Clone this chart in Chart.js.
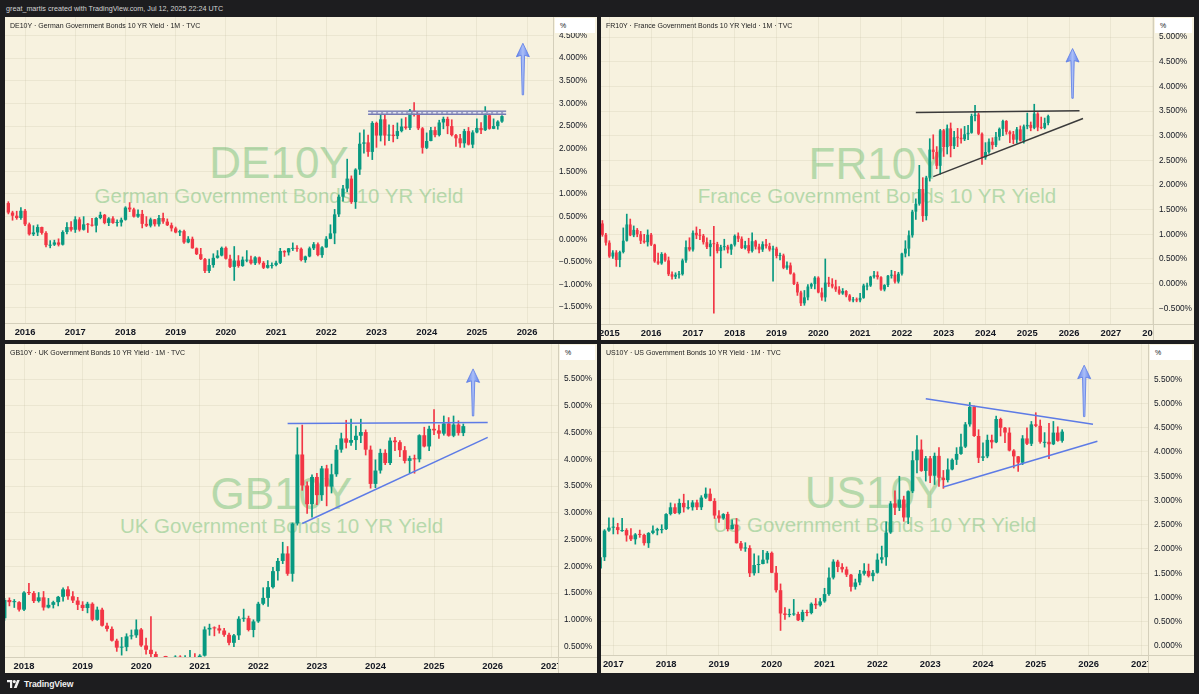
<!DOCTYPE html>
<html lang="en">
<head>
<meta charset="utf-8">
<title>10Y Government Bond Yields - 1M</title>
<script src="https://cdn.jsdelivr.net/npm/chart.js@4.4.1/dist/chart.umd.min.js"></script>
<style>
  html, body { margin: 0; padding: 0; }
  body {
    width: 1199px; height: 694px; position: relative; overflow: hidden;
    background: #1d1d1f; font-family: "Liberation Sans", Arial, sans-serif;
  }
  .topline { position: absolute; left: 6px; top: 4px; font-size: 7.2px; color: #d4d4d4; white-space: nowrap; }
  .panel { position: absolute; background: #f7f2df; overflow: hidden; }
  .panel canvas { position: relative; z-index: 1; }
  .wm { position: absolute; left: 0; text-align: center; color: #b6d9ab; white-space: nowrap; z-index: 0; }
  .wm.big { font-size: 44px; line-height: 44px; }
  .wm.sub { font-size: 20.5px; line-height: 20.5px; }
  .title { position: absolute; left: 5px; top: 5px; font-size: 7px; color: #222; white-space: nowrap; z-index: 2; }
  .unit {
    position: absolute; top: 1px; height: 15px; background: #fff; z-index: 2;
    font-size: 7px; line-height: 15px; color: #131722; padding-left: 5px; box-sizing: border-box;
  }
  .corner {
    position: absolute; z-index: 2; background: #f7f2df; box-sizing: border-box;
    border-left: 1px solid #d4cfbb; border-top: 1px solid #d4cfbb;
  }
  .footer { position: absolute; left: 7px; top: 679px; height: 10px; display: flex; align-items: center; gap: 4px; }
  .footer span { color: #f0f0f0; font-size: 8.6px; font-weight: bold; letter-spacing: -0.1px; }
</style>
</head>
<body>

<div class="topline">great_martis created with TradingView.com, Jul 12, 2025 22:24 UTC</div>

<div class="panel" id="p-de" style="left:5px;top:17px;width:592px;height:323px">
  <div class="wm big">DE10Y</div>
  <div class="wm sub">German Government Bonds 10 YR Yield</div>
  <canvas id="c-de"></canvas>
  <div class="title">DE10Y · German Government Bonds 10 YR Yield · 1M · TVC</div>
  <div class="unit">%</div>
  <div class="corner"></div>
</div>

<div class="panel" id="p-fr" style="left:601px;top:17px;width:593px;height:323px">
  <div class="wm big">FR10Y</div>
  <div class="wm sub">France Government Bonds 10 YR Yield</div>
  <canvas id="c-fr"></canvas>
  <div class="title">FR10Y · France Government Bonds 10 YR Yield · 1M · TVC</div>
  <div class="unit">%</div>
  <div class="corner"></div>
</div>

<div class="panel" id="p-gb" style="left:5px;top:344px;width:592px;height:329px">
  <div class="wm big">GB10Y</div>
  <div class="wm sub">UK Government Bonds 10 YR Yield</div>
  <canvas id="c-gb"></canvas>
  <div class="title">GB10Y · UK Government Bonds 10 YR Yield · 1M · TVC</div>
  <div class="unit">%</div>
  <div class="corner"></div>
</div>

<div class="panel" id="p-us" style="left:601px;top:344px;width:593px;height:329px">
  <div class="wm big">US10Y</div>
  <div class="wm sub">US Government Bonds 10 YR Yield</div>
  <canvas id="c-us"></canvas>
  <div class="title">US10Y · US Government Bonds 10 YR Yield · 1M · TVC</div>
  <div class="unit">%</div>
  <div class="corner"></div>
</div>

<div class="footer">
  <svg width="13" height="8" viewBox="0 0 13 8"><path d="M0 0H5.2V8H3V2.2H0Z" fill="#f0f0f0"/><circle cx="7.3" cy="1.6" r="1.6" fill="#f0f0f0"/><path d="M10 0H12.8L9.6 8H6.8Z" fill="#f0f0f0"/></svg>
  <span>TradingView</span>
</div>

<script>
// ---- monthly candles (yield in %), first candle month in *Start ----

// DE10Y, Sep 2015 -> Jul 2025
const deStart = [2015, 9];
const deOpen = [
  0.80, 0.59, 0.52, 0.47,
  0.63, 0.33, 0.11, 0.15, 0.27, 0.14, -0.13, -0.12, -0.07, -0.12, 0.16, 0.27,
  0.21, 0.44, 0.21, 0.33, 0.32, 0.30, 0.47, 0.54, 0.36, 0.46, 0.36, 0.37,
  0.43, 0.70, 0.66, 0.50, 0.56, 0.34, 0.30, 0.44, 0.33, 0.47, 0.39, 0.31,
  0.24, 0.15, 0.18, -0.07, 0.01, -0.20, -0.33, -0.44, -0.70, -0.57, -0.41, -0.36,
  -0.19, -0.43, -0.61, -0.47, -0.59, -0.45, -0.45, -0.53, -0.40, -0.52, -0.63, -0.57,
  -0.57, -0.52, -0.26, -0.29, -0.20, -0.19, -0.21, -0.46, -0.38, -0.20, -0.11, -0.35,
  -0.18, 0.01, 0.13, 0.55, 0.94, 1.12, 1.34, 0.82, 1.54, 2.11, 2.14, 1.93,
  2.57, 2.29, 2.65, 2.29, 2.31, 2.28, 2.39, 2.49, 2.46, 2.84, 2.81, 2.45,
  2.02, 2.17, 2.41, 2.30, 2.58, 2.66, 2.50, 2.30, 2.23, 2.12, 2.39, 2.09,
  2.36, 2.46, 2.41, 2.74, 2.44, 2.50, 2.60
];
const deHigh = [
  0.83, 0.62, 0.62, 0.70,
  0.66, 0.36, 0.30, 0.32, 0.27, 0.17, -0.03, -0.02, 0.01, 0.19, 0.37, 0.39,
  0.50, 0.48, 0.50, 0.35, 0.46, 0.48, 0.60, 0.55, 0.48, 0.50, 0.43, 0.47,
  0.72, 0.81, 0.69, 0.65, 0.64, 0.50, 0.47, 0.44, 0.53, 0.58, 0.45, 0.36,
  0.27, 0.20, 0.20, 0.06, 0.05, -0.19, -0.20, -0.42, -0.44, -0.32, -0.25, -0.17,
  -0.17, -0.35, -0.16, -0.36, -0.39, -0.25, -0.37, -0.38, -0.39, -0.49, -0.47, -0.52,
  -0.48, -0.20, -0.25, -0.20, -0.08, -0.14, -0.19, -0.37, -0.17, -0.07, -0.08, -0.16,
  0.06, 0.32, 0.66, 0.98, 1.19, 1.77, 1.40, 1.56, 2.35, 2.42, 2.30, 2.60,
  2.59, 2.74, 2.76, 2.53, 2.52, 2.57, 2.66, 2.69, 2.87, 3.02, 2.82, 2.47,
  2.35, 2.47, 2.48, 2.63, 2.70, 2.70, 2.64, 2.32, 2.32, 2.43, 2.47, 2.40,
  2.66, 2.58, 2.93, 2.78, 2.66, 2.62, 2.73
];
const deLow = [
  0.56, 0.42, 0.44, 0.44,
  0.30, 0.09, 0.08, 0.08, 0.11, -0.17, -0.19, -0.14, -0.15, -0.13, 0.12, 0.18,
  0.15, 0.18, 0.20, 0.15, 0.29, 0.16, 0.45, 0.34, 0.30, 0.35, 0.29, 0.29,
  0.42, 0.61, 0.49, 0.48, 0.25, 0.28, 0.27, 0.29, 0.29, 0.35, 0.30, 0.18,
  0.14, 0.08, -0.09, -0.08, -0.20, -0.34, -0.45, -0.74, -0.74, -0.62, -0.42, -0.37,
  -0.44, -0.63, -0.91, -0.62, -0.60, -0.50, -0.55, -0.56, -0.55, -0.65, -0.64, -0.64,
  -0.59, -0.54, -0.38, -0.35, -0.25, -0.27, -0.48, -0.51, -0.39, -0.23, -0.37, -0.40,
  -0.18, 0.00, -0.10, 0.50, 0.84, 1.05, 0.79, 0.68, 1.43, 1.90, 1.83, 1.76,
  2.03, 2.17, 2.08, 2.18, 2.15, 2.22, 2.37, 2.43, 2.42, 2.72, 2.42, 1.90,
  2.00, 2.17, 2.26, 2.28, 2.44, 2.33, 2.28, 2.05, 2.03, 2.03, 2.08, 2.02,
  2.35, 2.33, 2.40, 2.43, 2.44, 2.43, 2.58
];
const deClose = [
  0.59, 0.52, 0.47, 0.63,
  0.33, 0.11, 0.15, 0.27, 0.14, -0.13, -0.12, -0.07, -0.12, 0.16, 0.27, 0.21,
  0.44, 0.21, 0.33, 0.32, 0.30, 0.47, 0.54, 0.36, 0.46, 0.36, 0.37, 0.43,
  0.70, 0.66, 0.50, 0.56, 0.34, 0.30, 0.44, 0.33, 0.47, 0.39, 0.31, 0.24,
  0.15, 0.18, -0.07, 0.01, -0.20, -0.33, -0.44, -0.70, -0.57, -0.41, -0.36, -0.19,
  -0.43, -0.61, -0.47, -0.59, -0.45, -0.45, -0.53, -0.40, -0.52, -0.63, -0.57, -0.57,
  -0.52, -0.26, -0.29, -0.20, -0.19, -0.21, -0.46, -0.38, -0.20, -0.11, -0.35, -0.18,
  0.01, 0.13, 0.55, 0.94, 1.12, 1.34, 0.82, 1.54, 2.11, 2.14, 1.93, 2.57,
  2.29, 2.65, 2.29, 2.31, 2.28, 2.39, 2.49, 2.46, 2.84, 2.81, 2.45, 2.02,
  2.17, 2.41, 2.30, 2.58, 2.66, 2.50, 2.30, 2.23, 2.12, 2.39, 2.09, 2.36,
  2.46, 2.41, 2.74, 2.44, 2.50, 2.60, 2.72
];

// FR10Y, Nov 2014 -> Jul 2025
const frStart = [2014, 11];
const frOpen = [
  1.22, 0.99,
  0.83, 0.55, 0.63, 0.48, 0.64, 0.87, 1.20, 0.98, 1.09, 1.00, 0.87, 0.84,
  0.99, 0.79, 0.45, 0.41, 0.60, 0.47, 0.19, 0.14, 0.18, 0.19, 0.47, 0.74,
  0.69, 1.03, 0.98, 0.97, 0.84, 0.74, 0.81, 0.80, 0.66, 0.74, 0.75, 0.69,
  0.79, 0.97, 0.91, 0.72, 0.78, 0.66, 0.86, 0.75, 0.69, 0.80, 0.76, 0.69,
  0.71, 0.56, 0.57, 0.32, 0.37, 0.20, -0.01, -0.18, -0.40, -0.28, -0.06, -0.01,
  0.12, -0.18, -0.28, 0.02, -0.01, -0.06, -0.12, -0.20, -0.15, -0.24, -0.34, -0.32,
  -0.34, -0.29, -0.04, -0.04, 0.14, 0.17, 0.13, -0.12, -0.03, 0.16, 0.18, 0.04,
  0.20, 0.61, 0.71, 0.98, 1.46, 1.62, 1.92, 1.37, 2.15, 2.72, 2.67, 2.39,
  3.11, 2.77, 3.15, 2.79, 2.97, 2.96, 2.93, 3.03, 3.06, 3.40, 3.43, 3.04,
  2.56, 2.67, 2.88, 2.81, 2.98, 3.14, 3.30, 3.08, 3.03, 2.92, 3.13, 2.90,
  3.19, 3.22, 3.16, 3.45, 3.17, 3.16, 3.26
];
const frHigh = [
  1.28, 1.02,
  0.87, 0.67, 0.67, 0.66, 1.13, 1.41, 1.31, 1.17, 1.12, 1.06, 1.00, 1.09,
  1.02, 0.80, 0.62, 0.63, 0.62, 0.54, 0.24, 0.22, 0.25, 0.50, 0.87, 0.93,
  1.07, 1.15, 1.10, 1.00, 0.93, 0.88, 1.16, 0.84, 0.78, 0.90, 0.78, 0.80,
  0.99, 1.03, 0.95, 0.86, 0.92, 1.03, 0.88, 0.80, 0.85, 0.90, 0.82, 0.76,
  0.74, 0.62, 0.60, 0.44, 0.42, 0.22, 0.03, -0.15, -0.14, -0.02, 0.01, 0.14,
  0.14, -0.09, 0.50, 0.13, 0.10, 0.07, -0.06, -0.10, -0.14, -0.22, -0.28, -0.29,
  -0.20, 0.00, 0.01, 0.15, 0.25, 0.24, 0.14, -0.02, 0.17, 0.27, 0.25, 0.23,
  0.62, 0.87, 1.07, 1.49, 1.72, 2.40, 2.15, 2.18, 2.94, 3.02, 2.78, 3.13,
  3.13, 3.22, 3.26, 3.09, 3.15, 3.14, 3.19, 3.21, 3.44, 3.62, 3.46, 3.06,
  2.86, 2.94, 2.96, 3.07, 3.16, 3.32, 3.31, 3.10, 3.09, 3.17, 3.20, 3.22,
  3.46, 3.28, 3.64, 3.47, 3.38, 3.36, 3.42
];
const frLow = [
  0.96, 0.78,
  0.53, 0.51, 0.35, 0.34, 0.62, 0.86, 0.97, 0.95, 0.95, 0.81, 0.82, 0.76,
  0.77, 0.43, 0.39, 0.39, 0.45, 0.16, 0.09, 0.10, 0.11, 0.17, 0.43, 0.66,
  0.66, 0.91, 0.89, 0.80, 0.71, 0.56, -0.60, 0.62, 0.32, 0.68, 0.62, 0.59,
  0.76, 0.85, 0.71, 0.70, 0.62, 0.64, 0.70, 0.62, 0.65, 0.72, 0.66, 0.05,
  0.52, 0.48, 0.30, 0.29, 0.19, -0.02, -0.24, -0.45, -0.44, -0.33, -0.10, -0.11,
  -0.19, -0.34, -0.36, -0.06, -0.09, -0.16, -0.22, -0.22, -0.27, -0.36, -0.37, -0.37,
  -0.37, -0.30, -0.13, -0.06, 0.11, 0.09, -0.14, -0.15, -0.06, 0.11, 0.00, 0.01,
  0.17, 0.54, 0.56, 0.94, 1.30, 1.59, 1.26, 1.29, 2.08, 2.53, 2.33, 2.22,
  2.58, 2.63, 2.57, 2.74, 2.78, 2.85, 2.90, 2.92, 3.05, 3.30, 3.02, 2.42,
  2.52, 2.64, 2.73, 2.78, 2.91, 3.00, 3.03, 2.86, 2.84, 2.85, 2.89, 2.85,
  3.14, 3.10, 3.14, 3.10, 3.14, 3.14, 3.22
];
const frClose = [
  0.99, 0.83,
  0.55, 0.63, 0.48, 0.64, 0.87, 1.20, 0.98, 1.09, 1.00, 0.87, 0.84, 0.99,
  0.79, 0.45, 0.41, 0.60, 0.47, 0.19, 0.14, 0.18, 0.19, 0.47, 0.74, 0.69,
  1.03, 0.98, 0.97, 0.84, 0.74, 0.81, 0.80, 0.66, 0.74, 0.75, 0.69, 0.79,
  0.97, 0.91, 0.72, 0.78, 0.66, 0.86, 0.75, 0.69, 0.80, 0.76, 0.69, 0.71,
  0.56, 0.57, 0.32, 0.37, 0.20, -0.01, -0.18, -0.40, -0.28, -0.06, -0.01, 0.12,
  -0.18, -0.28, 0.02, -0.01, -0.06, -0.12, -0.20, -0.15, -0.24, -0.34, -0.32, -0.34,
  -0.29, -0.04, -0.04, 0.14, 0.17, 0.13, -0.12, -0.03, 0.16, 0.18, 0.04, 0.20,
  0.61, 0.71, 0.98, 1.46, 1.62, 1.92, 1.37, 2.15, 2.72, 2.67, 2.39, 3.11,
  2.77, 3.15, 2.79, 2.97, 2.96, 2.93, 3.03, 3.06, 3.40, 3.43, 3.04, 2.56,
  2.67, 2.88, 2.81, 2.98, 3.14, 3.30, 3.08, 3.03, 2.92, 3.13, 2.90, 3.19,
  3.22, 3.16, 3.45, 3.17, 3.16, 3.26, 3.40
];

// GB10Y, Sep 2017 -> Jul 2025
const gbStart = [2017, 9];
const gbOpen = [
  1.03, 1.37, 1.33, 1.33,
  1.19, 1.51, 1.50, 1.35, 1.42, 1.23, 1.28, 1.33, 1.43, 1.57, 1.44, 1.36,
  1.28, 1.22, 1.30, 1.00, 1.19, 0.89, 0.83, 0.61, 0.48, 0.49, 0.69, 0.71,
  0.82, 0.52, 0.44, 0.36, 0.23, 0.18, 0.17, 0.10, 0.31, 0.23, 0.26, 0.30,
  0.20, 0.33, 0.82, 0.85, 0.84, 0.80, 0.72, 0.57, 0.71, 1.02, 1.03, 0.81,
  0.97, 1.30, 1.41, 1.61, 1.91, 2.10, 2.24, 1.86, 2.80, 4.09, 3.51, 3.16,
  3.67, 3.33, 3.83, 3.49, 3.72, 4.18, 4.39, 4.31, 4.36, 4.44, 4.51, 4.18,
  3.54, 3.79, 4.12, 3.93, 4.35, 4.32, 4.17, 3.97, 4.02, 4.00, 4.45, 4.24,
  4.57, 4.54, 4.48, 4.67, 4.44, 4.65, 4.49
];
const gbHigh = [
  1.40, 1.41, 1.38, 1.34,
  1.53, 1.68, 1.53, 1.51, 1.53, 1.40, 1.35, 1.44, 1.60, 1.62, 1.53, 1.42,
  1.34, 1.33, 1.32, 1.24, 1.22, 0.94, 0.87, 0.64, 0.67, 0.74, 0.81, 1.00,
  0.84, 0.66, 1.06, 0.40, 0.29, 0.32, 0.22, 0.33, 0.33, 0.33, 0.43, 0.37,
  0.35, 0.87, 0.92, 0.87, 0.90, 0.84, 0.75, 0.73, 1.06, 1.20, 1.07, 1.00,
  1.33, 1.60, 1.72, 1.98, 2.15, 2.45, 2.37, 2.81, 4.59, 4.64, 3.58, 3.71,
  3.74, 3.87, 3.89, 3.91, 4.26, 4.49, 4.73, 4.75, 4.62, 4.75, 4.55, 4.25,
  3.99, 4.19, 4.18, 4.40, 4.41, 4.35, 4.24, 4.06, 4.08, 4.46, 4.60, 4.62,
  4.93, 4.64, 4.81, 4.78, 4.81, 4.72, 4.66
];
const gbLow = [
  0.99, 1.26, 1.23, 1.16,
  1.17, 1.47, 1.32, 1.33, 1.18, 1.22, 1.22, 1.26, 1.35, 1.38, 1.32, 1.19,
  1.17, 1.13, 0.98, 0.99, 0.88, 0.79, 0.60, 0.41, 0.34, 0.42, 0.64, 0.67,
  0.50, 0.36, 0.08, 0.22, 0.13, 0.15, 0.08, 0.08, 0.14, 0.16, 0.24, 0.17,
  0.18, 0.32, 0.71, 0.70, 0.75, 0.69, 0.53, 0.50, 0.63, 0.97, 0.79, 0.68,
  0.95, 1.28, 1.25, 1.59, 1.74, 2.05, 1.83, 1.72, 2.77, 3.42, 2.99, 2.92,
  3.15, 3.23, 3.13, 3.37, 3.68, 4.13, 4.21, 4.26, 4.18, 4.31, 4.08, 3.46,
  3.47, 3.74, 3.90, 3.90, 4.16, 4.05, 3.93, 3.75, 3.74, 3.95, 4.23, 4.16,
  4.46, 4.39, 4.45, 4.43, 4.42, 4.45, 4.44
];
const gbClose = [
  1.37, 1.33, 1.33, 1.19,
  1.51, 1.50, 1.35, 1.42, 1.23, 1.28, 1.33, 1.43, 1.57, 1.44, 1.36, 1.28,
  1.22, 1.30, 1.00, 1.19, 0.89, 0.83, 0.61, 0.48, 0.49, 0.69, 0.71, 0.82,
  0.52, 0.44, 0.36, 0.23, 0.18, 0.17, 0.10, 0.31, 0.23, 0.26, 0.30, 0.20,
  0.33, 0.82, 0.85, 0.84, 0.80, 0.72, 0.57, 0.71, 1.02, 1.03, 0.81, 0.97,
  1.30, 1.41, 1.61, 1.91, 2.10, 2.24, 1.86, 2.80, 4.09, 3.51, 3.16, 3.67,
  3.33, 3.83, 3.49, 3.72, 4.18, 4.39, 4.31, 4.36, 4.44, 4.51, 4.18, 3.54,
  3.79, 4.12, 3.93, 4.35, 4.32, 4.17, 3.97, 4.02, 4.00, 4.45, 4.24, 4.57,
  4.54, 4.48, 4.67, 4.44, 4.65, 4.49, 4.62
];

// US10Y, Oct 2016 -> Jul 2025
const usStart = [2016, 10];
const usOpen = [
  1.60, 1.83, 2.38,
  2.44, 2.45, 2.39, 2.39, 2.28, 2.20, 2.30, 2.29, 2.12, 2.33, 2.38, 2.41,
  2.41, 2.72, 2.86, 2.74, 2.95, 2.86, 2.86, 2.96, 2.86, 3.06, 3.14, 2.99,
  2.69, 2.63, 2.72, 2.41, 2.50, 2.12, 2.01, 2.02, 1.50, 1.67, 1.69, 1.78,
  1.92, 1.51, 1.15, 0.67, 0.64, 0.65, 0.66, 0.53, 0.70, 0.68, 0.87, 0.84,
  0.92, 1.07, 1.41, 1.74, 1.63, 1.58, 1.47, 1.22, 1.31, 1.49, 1.55, 1.44,
  1.51, 1.78, 1.83, 2.34, 2.94, 2.85, 3.02, 2.65, 3.19, 3.83, 4.05, 3.61,
  3.87, 3.51, 3.92, 3.47, 3.42, 3.64, 3.84, 3.96, 4.11, 4.57, 4.93, 4.33,
  3.88, 3.91, 4.25, 4.20, 4.68, 4.50, 4.40, 4.03, 3.91, 3.78, 4.28, 4.17,
  4.57, 4.54, 4.21, 4.21, 4.16, 4.40, 4.23
];
const usHigh = [
  1.87, 2.40, 2.64,
  2.64, 2.53, 2.63, 2.42, 2.42, 2.32, 2.39, 2.31, 2.34, 2.48, 2.43, 2.50,
  2.73, 2.95, 2.93, 3.03, 3.13, 3.00, 3.00, 3.01, 3.10, 3.26, 3.24, 3.04,
  2.79, 2.73, 2.76, 2.60, 2.63, 2.16, 2.13, 2.07, 1.90, 1.86, 1.97, 1.95,
  1.94, 1.64, 1.28, 0.79, 0.76, 0.96, 0.70, 0.74, 0.74, 0.89, 0.98, 0.98,
  1.19, 1.61, 1.78, 1.77, 1.70, 1.63, 1.48, 1.38, 1.56, 1.70, 1.69, 1.56,
  1.90, 2.06, 2.56, 2.98, 3.20, 3.50, 3.09, 3.20, 4.01, 4.34, 4.25, 3.91,
  3.91, 3.98, 4.09, 3.62, 3.86, 3.86, 4.09, 4.37, 4.61, 5.02, 4.95, 4.46,
  4.19, 4.35, 4.35, 4.74, 4.70, 4.51, 4.50, 4.05, 3.91, 4.34, 4.50, 4.63,
  4.81, 4.66, 4.40, 4.59, 4.63, 4.52, 4.46
];
const usLow = [
  1.59, 1.76, 2.36,
  2.31, 2.31, 2.36, 2.16, 2.17, 2.10, 2.24, 2.08, 2.03, 2.31, 2.29, 2.33,
  2.40, 2.70, 2.73, 2.72, 2.76, 2.82, 2.80, 2.81, 2.81, 3.04, 2.99, 2.63,
  2.55, 2.61, 2.37, 2.41, 2.12, 1.97, 1.95, 1.43, 1.46, 1.51, 1.69, 1.71,
  1.51, 1.11, 0.32, 0.55, 0.60, 0.63, 0.52, 0.50, 0.62, 0.66, 0.77, 0.82,
  0.90, 1.04, 1.38, 1.53, 1.52, 1.43, 1.13, 1.17, 1.26, 1.46, 1.42, 1.34,
  1.50, 1.71, 1.66, 2.32, 2.71, 2.79, 2.57, 2.52, 3.16, 3.57, 3.60, 3.40,
  3.37, 3.33, 3.29, 3.25, 3.38, 3.63, 3.74, 3.95, 4.09, 4.53, 4.32, 3.78,
  3.82, 3.88, 4.08, 4.19, 4.33, 4.19, 4.02, 3.67, 3.60, 3.74, 4.15, 4.13,
  4.52, 4.18, 4.10, 3.86, 4.15, 4.22, 4.20
];
const usClose = [
  1.83, 2.38, 2.44,
  2.45, 2.39, 2.39, 2.28, 2.20, 2.30, 2.29, 2.12, 2.33, 2.38, 2.41, 2.41,
  2.72, 2.86, 2.74, 2.95, 2.86, 2.86, 2.96, 2.86, 3.06, 3.14, 2.99, 2.69,
  2.63, 2.72, 2.41, 2.50, 2.12, 2.01, 2.02, 1.50, 1.67, 1.69, 1.78, 1.92,
  1.51, 1.15, 0.67, 0.64, 0.65, 0.66, 0.53, 0.70, 0.68, 0.87, 0.84, 0.92,
  1.07, 1.41, 1.74, 1.63, 1.58, 1.47, 1.22, 1.31, 1.49, 1.55, 1.44, 1.51,
  1.78, 1.83, 2.34, 2.94, 2.85, 3.02, 2.65, 3.19, 3.83, 4.05, 3.61, 3.87,
  3.51, 3.92, 3.47, 3.42, 3.64, 3.84, 3.96, 4.11, 4.57, 4.93, 4.33, 3.88,
  3.91, 4.25, 4.20, 4.68, 4.50, 4.40, 4.03, 3.91, 3.78, 4.28, 4.17, 4.57,
  4.54, 4.21, 4.21, 4.16, 4.40, 4.23, 4.42
];

// ---- axis labels ----
const deYears = [2016, 2017, 2018, 2019, 2020, 2021, 2022, 2023, 2024, 2025, 2026];
const frYears = [2015, 2016, 2017, 2018, 2019, 2020, 2021, 2022, 2023, 2024, 2025, 2026, 2027, 2028];
const gbYears = [2018, 2019, 2020, 2021, 2022, 2023, 2024, 2025, 2026, 2027];
const usYears = [2017, 2018, 2019, 2020, 2021, 2022, 2023, 2024, 2025, 2026, 2027];

const dePrices = [-1.5, -1.0, -0.5, 0.0, 0.5, 1.0, 1.5, 2.0, 2.5, 3.0, 3.5, 4.0, 4.5];
const frPrices = [-0.5, 0.0, 0.5, 1.0, 1.5, 2.0, 2.5, 3.0, 3.5, 4.0, 4.5, 5.0];
const gbPrices = [0.5, 1.0, 1.5, 2.0, 2.5, 3.0, 3.5, 4.0, 4.5, 5.0, 5.5];
const usPrices = [0.0, 0.5, 1.0, 1.5, 2.0, 2.5, 3.0, 3.5, 4.0, 4.5, 5.0, 5.5];

// ---- drawings on the charts: [year, month], yield ----
const deBand = { from: [2022, 11], to: [2025, 8], low: 2.76, high: 2.83 };
const deArrow = { at: [2025, 12], from: 3.19, to: 4.33 };
const frLines = [
  { from: [2022, 5], y1: 3.47, to: [2026, 4], y2: 3.51 },
  { from: [2022, 10], y1: 2.17, to: [2026, 5], y2: 3.35 }
];
const frArrow = { at: [2026, 2], from: 3.76, to: 4.77 };
const gbLines = [
  { from: [2022, 7], y1: 4.67, to: [2025, 12], y2: 4.69 },
  { from: [2022, 10], y1: 2.80, to: [2025, 12], y2: 4.41 }
];
const gbArrow = { at: [2025, 9], from: 4.81, to: 5.69 };
const usLines = [
  { from: [2022, 12], y1: 5.10, to: [2026, 2], y2: 4.57 },
  { from: [2023, 4], y1: 3.28, to: [2026, 3], y2: 4.22 }
];
const usArrow = { at: [2025, 12], from: 4.73, to: 5.79 };

// ---- styles ----
const UP = '#089981';
const DOWN = '#f23645';
const GRID = 'rgba(120, 110, 80, 0.09)';
const AXIS = '#d4cfbb';
const TEXT = '#131722';
const FONT = '"Liberation Sans", Arial, sans-serif';

const ym = (d) => d[0] * 12 + d[1] - 1;

const pctLabel = (v) => (v < 0 ? '\u2212' : '') + Math.abs(v).toFixed(3) + '%';

const arrowPlugin = {
  id: 'arrowMark',
  afterDatasetsDraw(chart, args, opts) {
    if (!opts || !opts.at) return;
    const { ctx } = chart;
    const px = chart.scales.x.getPixelForValue(ym(opts.at));
    const yTail = chart.scales.y.getPixelForValue(opts.from);
    const yTip = chart.scales.y.getPixelForValue(opts.to);
    const headH = 12, headW = 6.5, neck = 1.7, tail = 0.7;
    const yBase = yTip + headH;
    const grad = ctx.createLinearGradient(px - headW, 0, px + headW, 0);
    grad.addColorStop(0, '#5f80ea');
    grad.addColorStop(0.5, '#aabef7');
    grad.addColorStop(1, '#5f80ea');
    ctx.save();
    ctx.beginPath();
    ctx.moveTo(px - tail, yTail);
    ctx.lineTo(px - neck, yBase);
    ctx.lineTo(px - headW, yBase + 1.5);
    ctx.lineTo(px, yTip);
    ctx.lineTo(px + headW, yBase + 1.5);
    ctx.lineTo(px + neck, yBase);
    ctx.lineTo(px + tail, yTail);
    ctx.closePath();
    ctx.fillStyle = grad;
    ctx.fill();
    ctx.lineWidth = 0.8;
    ctx.strokeStyle = '#5a7be6';
    ctx.stroke();
    ctx.restore();
  }
};

function lineSet(x1, y1, x2, y2, extra) {
  return Object.assign({
    type: 'line',
    data: [{ x: x1, y: y1 }, { x: x2, y: y2 }],
    borderWidth: 1.5,
    pointRadius: 0,
    fill: false,
    tension: 0,
    order: 1,
    clip: 0
  }, extra);
}

function drawingSets(p) {
  const sets = [];
  if (p.band) {
    // semi-transparent rectangle over the candles, dashed centre line
    const b = p.band, x1 = ym(b.from), x2 = ym(b.to), mid = (b.high + b.low) / 2;
    sets.push(lineSet(x1, b.high, x2, b.high, { borderColor: '#767bb3', borderWidth: 1.3, fill: '+1', backgroundColor: 'rgba(122, 128, 186, 0.72)' }));
    sets.push(lineSet(x1, b.low, x2, b.low, { borderColor: '#767bb3', borderWidth: 1.3 }));
    sets.push(lineSet(x1, mid, x2, mid, { borderColor: '#ffffff', borderWidth: 1.1, borderDash: [3, 2], order: 0 }));
  }
  (p.lines || []).forEach(l => {
    sets.push(lineSet(ym(l.from), l.y1, ym(l.to), l.y2, { borderColor: p.lineColor }));
  });
  return sets;
}

function makeChart(p) {
  const first = ym(p.start);
  const bodies = [], wicks = [], colors = [];
  for (let i = 0; i < p.close.length; i++) {
    bodies.push({ x: first + i, y: [p.open[i], p.close[i]] });
    wicks.push({ x: first + i, y: [p.low[i], p.high[i]] });
    colors.push(p.close[i] >= p.open[i] ? UP : DOWN);
  }

  const panel = document.getElementById('p-' + p.id);
  const plotW = panel.clientWidth - p.axisW;
  const plotH = panel.clientHeight - p.axisH;

  // watermark, unit box and axis corner sit around the canvas
  const big = panel.querySelector('.wm.big');
  const sub = panel.querySelector('.wm.sub');
  big.style.width = sub.style.width = plotW + 'px';
  big.style.top = (plotH / 2 - 7 - 22) + 'px';
  sub.style.top = (plotH / 2 + 26 - 10.25) + 'px';
  const unit = panel.querySelector('.unit');
  unit.style.left = (plotW + 2) + 'px';
  unit.style.width = (p.axisW - 4) + 'px';
  const corner = panel.querySelector('.corner');
  corner.style.left = plotW + 'px';
  corner.style.top = plotH + 'px';
  corner.style.width = p.axisW + 'px';
  corner.style.height = p.axisH + 'px';

  return new Chart(document.getElementById('c-' + p.id), {
    type: 'bar',
    data: {
      datasets: [
        { data: wicks, backgroundColor: colors, barThickness: 1, grouped: false, order: 3, clip: 0 },
        { data: bodies, backgroundColor: colors, categoryPercentage: 1, barPercentage: 0.8,
          minBarLength: 1, grouped: false, order: 2, clip: 0 },
        ...drawingSets(p)
      ]
    },
    plugins: [arrowPlugin],
    options: {
      responsive: true,
      maintainAspectRatio: false,
      animation: false,
      events: [],
      layout: { padding: 0 },
      plugins: {
        legend: { display: false },
        tooltip: { enabled: false },
        arrowMark: p.arrow
      },
      scales: {
        x: {
          type: 'linear',
          min: p.xMin,
          max: p.xMax,
          offset: false,
          afterBuildTicks: s => { s.ticks = p.years.map(y => ({ value: y * 12 })); },
          afterFit: s => { s.height = p.axisH; s.paddingLeft = 0; s.paddingRight = 0; },
          grid: { color: GRID, drawTicks: false, offset: false },
          border: { display: true, color: AXIS },
          ticks: {
            autoSkip: false, maxRotation: 0, padding: 4, color: TEXT,
            font: { family: FONT, size: 9.4, weight: 'bold' },
            callback: v => String(Math.round(v / 12))
          }
        },
        y: {
          type: 'linear',
          position: 'right',
          min: p.yMin,
          max: p.yMax,
          afterBuildTicks: s => { s.ticks = p.prices.map(v => ({ value: v })); },
          afterFit: s => { s.width = p.axisW; s.paddingTop = 0; s.paddingBottom = 0; },
          grid: { color: GRID, drawTicks: false },
          border: { display: true, color: AXIS },
          ticks: {
            autoSkip: false, padding: 6, color: TEXT,
            font: { family: FONT, size: 8.3 },
            callback: v => pctLabel(v)
          }
        }
      }
    }
  });
}

const panels = [
  { id: 'de', start: deStart, open: deOpen, high: deHigh, low: deLow, close: deClose,
    years: deYears, prices: dePrices, xMin: 24187.2, xMax: 24318.2, yMin: -1.85, yMax: 4.91,
    axisW: 44, axisH: 17, band: deBand, arrow: deArrow },
  { id: 'fr', start: frStart, open: frOpen, high: frHigh, low: frLow, close: frClose,
    years: frYears, prices: frPrices, xMin: 24177.6, xMax: 24336.1, yMin: -0.82, yMax: 5.41,
    axisW: 41, axisH: 16, lines: frLines, lineColor: '#3b3b3b', arrow: frArrow },
  { id: 'gb', start: gbStart, open: gbOpen, high: gbHigh, low: gbLow, close: gbClose,
    years: gbYears, prices: gbPrices, xMin: 24212.1, xMax: 24325.4, yMin: 0.305, yMax: 6.155,
    axisW: 39, axisH: 16, lines: gbLines, lineColor: '#5d7be6', arrow: gbArrow },
  { id: 'us', start: usStart, open: usOpen, high: usHigh, low: usLow, close: usClose,
    years: usYears, prices: usPrices, xMin: 24201.2, xMax: 24325.5, yMin: -0.186, yMax: 6.227,
    axisW: 46, axisH: 18, lines: usLines, lineColor: '#5d7be6', arrow: usArrow }
];

panels.forEach(makeChart);
</script>
</body>
</html>
